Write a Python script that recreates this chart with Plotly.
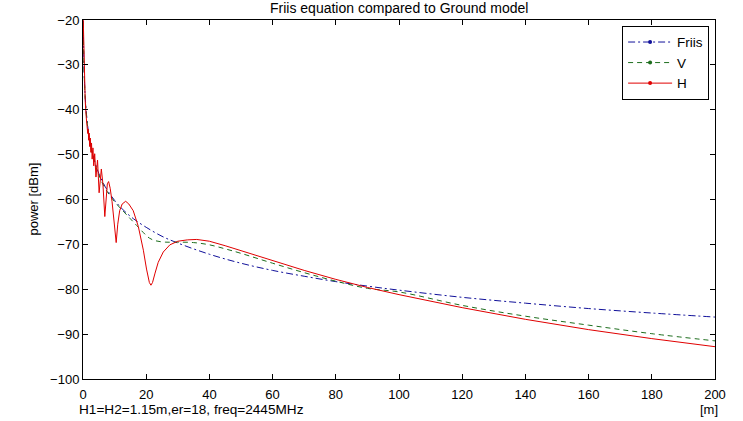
import plotly.graph_objects as go

# ---- data ----
friis_d = [0.1, 0.15, 0.2, 0.3, 0.5, 0.7, 1, 1.5, 2, 3, 4, 5, 7, 10, 13, 16, 20, 25, 30,
           40, 50, 60, 70, 80, 90, 100, 120, 140, 160, 180, 200]
friis_p = [-20.2, -23.7, -26.2, -29.7, -34.2, -37.1, -40.2, -43.7, -46.2, -49.7, -52.2, -54.2,
           -57.1, -60.2, -62.5, -64.3, -66.2, -68.2, -69.7, -72.2, -74.2, -75.8, -77.1, -78.3,
           -79.3, -80.2, -81.8, -83.1, -84.3, -85.3, -86.2]

v_d = [0.1, 0.15, 0.2, 0.3, 0.5, 0.7, 1, 1.5, 2, 3, 4, 5, 7, 10, 13, 15, 17, 19, 21, 23, 26,
       30, 35, 40, 45, 50, 60, 70, 80, 90, 100, 120, 140, 160, 180, 200]
v_p = [-20.5, -24.0, -26.5, -30.0, -34.5, -37.5, -40.5, -44.0, -46.5, -50.0, -52.5, -54.5,
       -57.5, -60.5, -62.8, -64.3, -65.8, -67.3, -68.6, -69.2, -69.5, -69.5, -69.6, -70.1,
       -71.0, -72.0, -74.2, -76.3, -78.2, -79.8, -80.6, -83.6, -86.0, -88.0, -89.9, -91.5]

h_d = [0.05, 0.1, 0.2, 0.3, 0.5, 0.7, 1.0, 1.3, 1.5, 1.65, 1.8, 1.95, 2.1, 2.3, 2.5, 2.7, 2.9,
       3.15, 3.4, 3.7, 4.1, 4.6, 5.1, 5.8, 6.3, 6.9, 7.3, 7.7, 8.1, 8.6, 9.2, 9.8, 10.5, 11.0,
       11.6, 12.4, 13.5, 14.5, 15.9, 17.5, 19.1, 20.1, 21.0, 21.5, 22.0, 22.8, 23.8, 25.4,
       27.5, 30, 33, 36, 40, 45, 50, 60, 70, 80, 90, 100, 120, 140, 160, 180, 200]
h_p = [-19.0, -21.0, -26.5, -30.3, -35.0, -38.0, -41.5, -43.8, -45.3, -44.3, -46.8, -45.2,
       -48.2, -46.3, -49.5, -47.4, -51.0, -48.5, -52.5, -49.8, -55.0, -51.2, -58.5, -53.2,
       -56.5, -63.8, -59.0, -56.5, -56.0, -57.5, -60.5, -64.5, -69.6, -65.5, -62.5, -61.0,
       -60.4, -61.0, -62.5, -66.0, -71.3, -75.5, -78.5, -79.1, -78.5, -76.4, -74.0, -71.7,
       -70.1, -69.3, -69.0, -68.9, -69.3, -70.3, -71.4, -73.7, -75.8, -77.8, -79.6, -81.2,
       -84.1, -86.7, -89.0, -91.0, -92.8]

series_names = ["Friis", "V", "H"]
x_ticks = [0, 20, 40, 60, 80, 100, 120, 140, 160, 180, 200]
y_ticks = [-100, -90, -80, -70, -60, -50, -40, -30, -20]

# ---- styles ----
colors = {"Friis": "#10109a", "V": "#1e6e1e", "H": "#e00000"}
dashes = {"Friis": "7px,3px,2px,3px", "V": "5px,4px", "H": "solid"}
shapes = {"Friis": "spline", "V": "spline", "H": "linear"}
data = {"Friis": (friis_d, friis_p), "V": (v_d, v_p), "H": (h_d, h_p)}

FONT = "Liberation Sans, Arial, sans-serif"

fig = go.Figure()
for name in series_names:
    xs, ys = data[name]
    fig.add_trace(go.Scatter(
        x=xs, y=ys, mode="lines", name=name, showlegend=False,
        line=dict(color=colors[name], width=1, dash=dashes[name], shape=shapes[name]),
        cliponaxis=True, hoverinfo="skip"))
for name in series_names:
    fig.add_trace(go.Scatter(
        x=[None], y=[None], mode="lines+markers", name=name,
        line=dict(color=colors[name], width=1, dash=dashes[name]),
        marker=dict(color=colors[name], size=4)))

axis_common = dict(
    showline=True, linecolor="black", linewidth=1, mirror="allticks",
    ticks="inside", ticklen=5, tickcolor="black", tickwidth=1,
    showgrid=False, zeroline=False,
    tickfont=dict(family=FONT, size=13, color="black"),
)

fig.update_layout(
    width=743, height=421,
    margin=dict(l=83, r=28, t=20, b=42, pad=0),
    paper_bgcolor="white", plot_bgcolor="white",
    font=dict(family=FONT, size=13, color="black"),
    xaxis=dict(range=[0, 200], tickvals=x_ticks, ticklabelstandoff=3, **axis_common),
    yaxis=dict(range=[-100, -20], tickvals=y_ticks, **axis_common),
    legend=dict(
        x=0.853, y=0.984, xanchor="left", yanchor="top",
        bgcolor="white", bordercolor="black", borderwidth=1,
        font=dict(family=FONT, size=13.5, color="black"),
        tracegroupgap=0, itemwidth=44,
    ),
    annotations=[
        dict(text="Friis equation compared to Ground model", xref="paper", yref="paper",
             x=0.5, y=1.034, xanchor="center", yanchor="middle", showarrow=False,
             font=dict(family=FONT, size=14, color="black")),
        dict(text="power [dBm]", xref="paper", yref="paper", x=-0.079, y=0.5,
             xanchor="center", yanchor="middle", textangle=-90, showarrow=False,
             font=dict(family=FONT, size=13, color="black")),
        dict(text="H1=H2=1.15m,er=18, freq=2445MHz", xref="paper", yref="paper",
             x=-0.0095, y=-0.086, xanchor="left", yanchor="middle", showarrow=False,
             font=dict(family=FONT, size=13.6, color="black")),
        dict(text="[m]", xref="paper", yref="paper", x=0.9905, y=-0.086,
             xanchor="center", yanchor="middle", showarrow=False,
             font=dict(family=FONT, size=13, color="black")),
    ],
)

fig.write_html("out.html")
